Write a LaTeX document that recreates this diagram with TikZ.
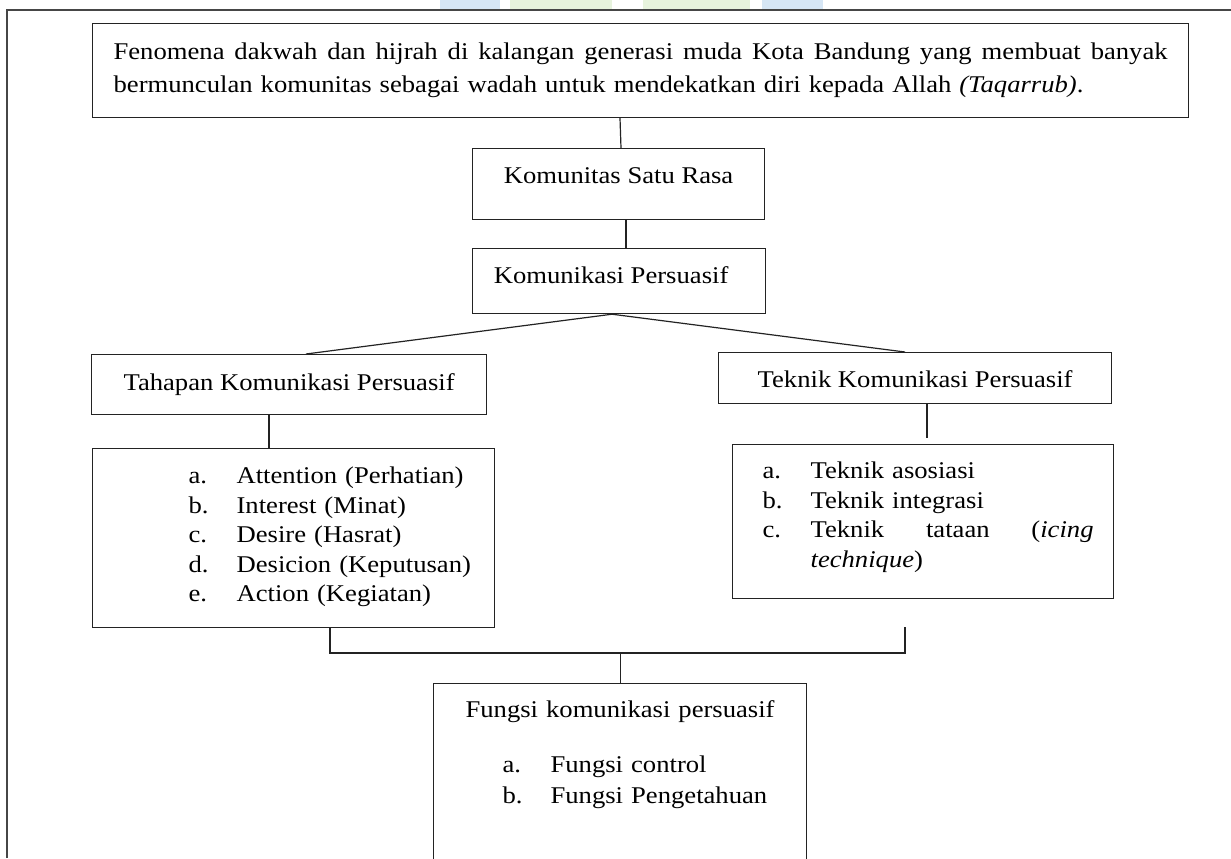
\documentclass[tikz,border=0pt]{standalone}
\usepackage{fontspec}
\setmainfont{Liberation Serif}[FakeStretch=1.11]
\usetikzlibrary{calc}
\definecolor{garisKotak}{RGB}{35,35,35}
\definecolor{garisTepi}{RGB}{70,70,70}
\definecolor{tandaBiru}{RGB}{214,230,245}
\definecolor{tandaHijau}{RGB}{231,243,221}
\newcommand{\Butir}[3]{\hspace*{#1}\makebox[24pt][l]{#2}#3}
\newcommand{\Rata}[2]{\makebox[#1][s]{\spaceskip=0.25em plus 1fil\relax #2}}

\begin{document}
\begin{tikzpicture}[x=0.5pt,y=-0.5pt,line width=0.6pt,
  kotak/.style={draw=garisKotak,inner sep=0pt,anchor=north west,align=left,
                font=\fontsize{12}{14.75}\selectfont}]
\useasboundingbox (0,0) rectangle (1231,858);
\clip (0,0) rectangle (1231,858);
% sisa logo di tepi atas
\fill[tandaBiru] (440,0) rectangle (500,9);
\fill[tandaHijau] (510,0) rectangle (612,9);
\fill[tandaHijau] (643,0) rectangle (750,9);
\fill[tandaBiru] (762,0) rectangle (823,9);
% bingkai halaman
\draw[garisTepi,line width=1pt] (7,858) -- (7,10) -- (1231,10);

\node[kotak,text width=527pt,inner xsep=10.5pt,text height=18pt,text depth=29pt,
      font=\fontsize{12}{16.5}\selectfont] (fenomena) at (92,23) {%
\Rata{\linewidth}{Fenomena dakwah dan hijrah di kalangan generasi muda Kota Bandung yang membuat banyak}\\
bermunculan komunitas sebagai wadah untuk mendekatkan diri kepada Allah \textit{(Taqarrub)}.};
\node[kotak,minimum width=146pt,text height=17.5pt,text depth=18pt] (komunitas) at (472,148) {Komunitas Satu Rasa};
\node[kotak,minimum width=146.5pt,text height=17.5pt,text depth=15pt] (persuasif) at (472,248) {Komunikasi Persuasif\hspace{8pt}};
\node[kotak,minimum width=197.5pt,text height=18pt,text depth=12pt] (tahapan) at (91,354) {Tahapan Komunikasi Persuasif};
\node[kotak,minimum width=196.5pt,text height=17.5pt,text depth=8pt] (teknik) at (718,352) {Teknik Komunikasi Persuasif};

\node[kotak,text width=201pt,text height=17.5pt,text depth=72pt] (listTahapan) at (92,448) {%
\Butir{48pt}{a.}{Attention (Perhatian)}\\
\Butir{48pt}{b.}{Interest (Minat)}\\
\Butir{48pt}{c.}{Desire (Hasrat)}\\
\Butir{48pt}{d.}{Desicion (Keputusan)}\\
\Butir{48pt}{e.}{Action (Kegiatan)}};
\node[kotak,text width=190.5pt,text height=17pt,text depth=60pt] (listTeknik) at (732,444) {%
\Butir{15pt}{a.}{Teknik asosiasi}\\
\Butir{15pt}{b.}{Teknik integrasi}\\
\Butir{15pt}{c.}{\Rata{141.5pt}{Teknik tataan (\textit{icing}}}\\
\hspace*{39pt}\textit{technique})};
\node[kotak,text width=186.5pt,text height=17pt,text depth=81.5pt] (fungsi) at (433,683) {%
\makebox[\linewidth][c]{Fungsi komunikasi persuasif}\\[12.75pt]
\Butir{34.5pt}{a.}{Fungsi control}\\[0.75pt]
\Butir{34.5pt}{b.}{Fungsi Pengetahuan}};

% garis penghubung
\draw[garisKotak] ($(fenomena.south west)+(528,0)$) -- ($(komunitas.north west)+(149,0)$);
\draw[garisKotak] ($(komunitas.south west)+(154,0)$) -- ($(persuasif.north west)+(154,0)$);
\draw[garisKotak] ($(persuasif.south west)+(140,0)$) -- ($(tahapan.north west)+(215,0)$);
\draw[garisKotak] ($(persuasif.south west)+(140,0)$) -- ($(teknik.north west)+(187,0)$);
\draw[garisKotak] ($(tahapan.south west)+(178,0)$) -- ($(listTahapan.north west)+(177,0)$);
\draw[garisKotak] ($(teknik.south west)+(209,0)$) -- ($(listTeknik.north west)+(195,-6)$);

\coordinate (sikuKiri) at (330,653);
\coordinate (sikuKanan) at (905,653);
\coordinate (ujungKanan) at (905,627);
\draw[garisKotak] (listTahapan.south -| sikuKiri) -- (sikuKiri) -- (sikuKanan) -- (ujungKanan);
\draw[garisKotak] (fungsi.north |- sikuKiri) -- (fungsi.north);
\end{tikzpicture}
\end{document}
